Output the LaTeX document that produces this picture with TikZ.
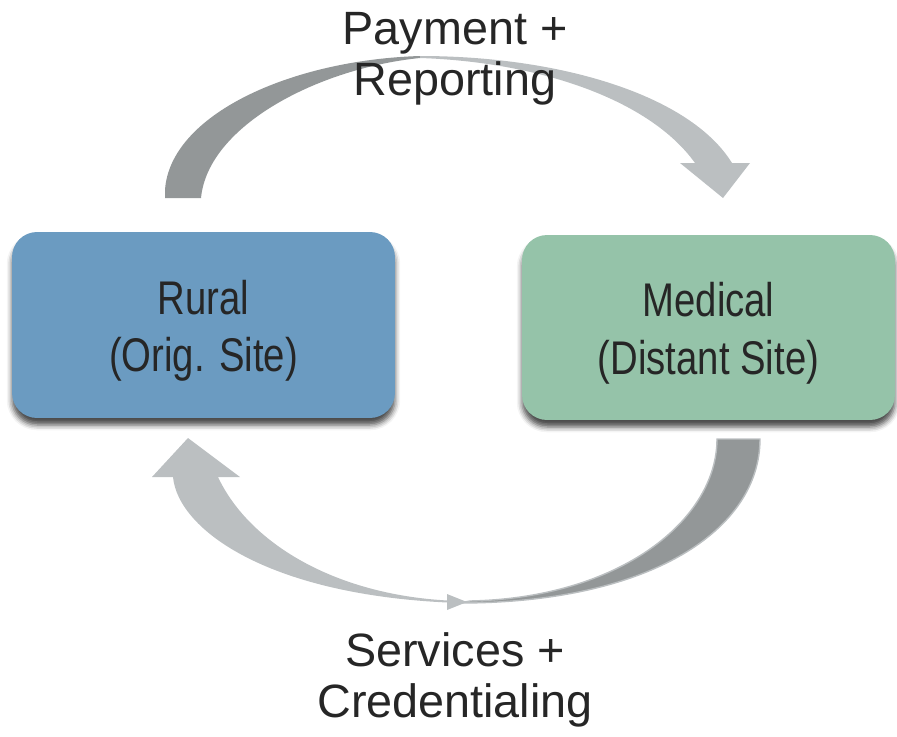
\documentclass[tikz,border=0pt]{standalone}
\usepackage{fontspec}
\setmainfont{Liberation Sans}
\newfontfamily\narrowsans[FakeStretch=0.81]{Liberation Sans}
\usetikzlibrary{shadows.blur}
\definecolor{ruralblue}{HTML}{6B9BC1}
\definecolor{medgreen}{HTML}{95C3A9}
\definecolor{arrdark}{HTML}{939798}
\definecolor{arrlight}{HTML}{BBBFC1}
\definecolor{txtgray}{HTML}{262626}

\begin{document}
\begin{tikzpicture}[x=0.02cm, y=-0.02cm,
    site/.style={rounded corners=0.5cm, align=center, text=txtgray,
      font=\narrowsans\fontsize{26.9}{32.9}\selectfont,
      blur shadow={shadow xshift=0pt, shadow yshift=-4pt, shadow blur radius=3pt, shadow opacity=70}},
    flow-label/.style={align=center, text=txtgray, inner sep=0pt,
      font=\fontsize{26.6}{29}\selectfont},
    dark-band/.style={fill=arrdark},
    light-band/.style={fill=arrlight}
  ]
\useasboundingbox (0,0) rectangle (897,737);

% Upper arrow (Rural -> Medical)
\fill[dark-band] (165,198) -- (165,190) .. controls (170,115) and (290,60) .. (420,56)
  -- (420,58) .. controls (320,68) and (208,125) .. (201,198) -- cycle;
\fill[light-band] (420,56) .. controls (560,56) and (690,95) .. (732,163)
  -- (750,163) -- (723,198) -- (680,163) -- (695,163)
  .. controls (650,100) and (540,62) .. (420,58) -- cycle;

% Lower arrow (Medical -> Rural)
\filldraw[dark-band, draw=arrlight, line width=0.8pt] (760,439) .. controls (760,530) and (650,603) .. (460,603)
  -- (470,601) .. controls (620,598) and (717,520) .. (717,439) -- cycle;
\fill[light-band] (460,603) .. controls (270,597) and (178,530) .. (173,477)
  -- (152,477) -- (188,438) -- (240,477) -- (218,477)
  .. controls (250,545) and (340,598) .. (460,601) -- cycle;
\fill[light-band] (447,594) -- (467,602) -- (447,610) -- cycle;

% Sites
\node[site, fill=ruralblue, minimum width=7.66cm, minimum height=3.72cm] (rural) at (203.5,325)
  {\rule{0pt}{0.92cm}Rural\\(Orig. Site)};
\node[site, fill=medgreen, minimum width=7.46cm, minimum height=3.7cm] (medical) at (708.5,327.5)
  {\rule{0pt}{0.92cm}Medical\\(Distant Site)};

% Flow labels
\node[flow-label] (payment) at (455,59) {Payment +\\Reporting};
\node[flow-label] (services) at (455,680) {Services +\\Credentialing};

\end{tikzpicture}
\end{document}
